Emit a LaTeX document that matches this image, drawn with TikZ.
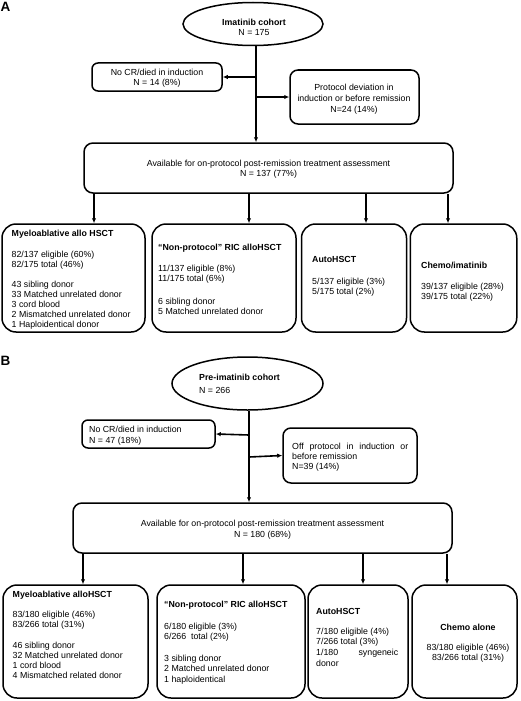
\documentclass[tikz,border=0pt]{standalone}
\usepackage{fontspec}
\setmainfont{Liberation Sans}
\usetikzlibrary{shapes.geometric,arrows.meta}
\newcommand{\lbox}[2]{\parbox[t]{#1pt}{\fontsize{8.8}{10}\selectfont\raggedright #2}}
\newcommand{\cbox}[2]{\parbox[t]{#1pt}{\fontsize{8.8}{10}\selectfont\centering #2}}
\begin{document}
\begin{tikzpicture}[x=1pt,y=-1pt,
  box/.style={draw,line width=1.5pt,rounded corners=#1,inner sep=0pt},
  box/.default=7,
  ell/.style={draw,ellipse,line width=1.5pt,inner sep=0pt},
  arr/.style={line width=1.6pt,-{Latex[length=5pt,width=4.5pt]}},
  txt/.style={inner sep=0pt,anchor=base west},
  ctxt/.style={inner sep=0pt,anchor=base},
  panel/.style={font=\fontsize{13.5}{13.5}\selectfont\bfseries,inner sep=0pt,anchor=north west}
]
\useasboundingbox (0,0) rectangle (520,701);

% ---------------- Panel A ----------------
\node[panel] (labA) at (0.5,2) {A};
\node[ell,minimum width=140,minimum height=43] (ellA) at (253,24) {};
\node[ctxt] (tEllA) at (254,26) {\cbox{120}{\textbf{Imatinib cohort}\\N = 175}};

\node[box=6,minimum width=130,minimum height=28] (noA) at (157,77) {};
\node[ctxt] (tNoA) at (157,75) {\cbox{128}{No CR/died in induction\\N = 14 (8\%)}};

\node[box=8,minimum width=129,minimum height=54] (devA) at (354.5,97) {};
\node[ctxt] (tDevA) at (354,90) {\cbox{127}{Protocol deviation in\\[1.5pt]induction or before remission\\[1pt]N=24 (14\%)}};

\node[box=9,minimum width=369,minimum height=50] (avA) at (268.5,168) {};
\node[ctxt] (tAvA) at (268.5,166) {\cbox{360}{Available for on-protocol post-remission treatment assessment\\[0.5pt]N = 137 (77\%)}};

\coordinate (trA) at (256,0);
\coordinate (jA1) at (256,77);
\coordinate (jA2) at (256,97);
\draw[arr] (ellA.south -| trA) -- (avA.north -| trA);
\draw[arr] (jA1) -- (noA.east);
\draw[arr] (jA2) -- (devA.west);

\node[box=14,minimum width=143,minimum height=108] (bA1) at (73.5,278) {};
\node[box=14,minimum width=144,minimum height=108] (bA2) at (224,278) {};
\node[box=14,minimum width=105,minimum height=108] (bA3) at (354,278) {};
\node[box=14,minimum width=106.5,minimum height=108] (bA4) at (463.5,278) {};

\coordinate (cA1) at (94,0);
\coordinate (cA2) at (249,0);
\coordinate (cA3) at (366,0);
\coordinate (cA4) at (448,0);
\draw[arr] (avA.south -| cA1) -- (bA1.north -| cA1);
\draw[arr] (avA.south -| cA2) -- (bA2.north -| cA2);
\draw[arr] (avA.south -| cA3) -- (bA3.north -| cA3);
\draw[arr] (avA.south -| cA4) -- (bA4.north -| cA4);

\node[txt] (tA1) at (11.5,236) {\lbox{132}{\textbf{Myeloablative allo HSCT}\\[11pt]82/137 eligible (60\%)\\82/175 total (46\%)\\[10pt]43 sibling donor\\33 Matched unrelated donor\\3 cord blood\\2 Mismatched unrelated donor\\1 Haploidentical donor}};
\node[txt] (tA2) at (158,250.5) {\lbox{136}{\textbf{“Non-protocol” RIC alloHSCT}\\[11pt]11/137 eligible (8\%)\\11/175 total (6\%)\\[13pt]6 sibling donor\\5 Matched unrelated donor}};
\node[txt] (tA3) at (312,262) {\lbox{92}{\textbf{AutoHSCT}\\[12.5pt]5/137 eligible (3\%)\\5/175 total (2\%)}};
\node[txt] (tA4) at (421,268) {\lbox{95}{\textbf{Chemo/imatinib}\\[11pt]39/137 eligible (28\%)\\39/175 total (22\%)}};

% ---------------- Panel B ----------------
\node[panel] (labB) at (0.5,356) {B};
\node[ell,minimum width=151,minimum height=53] (ellB) at (247.5,383.5) {};
\node[txt] (tEllB) at (199,380.5) {\lbox{110}{\textbf{Pre-imatinib cohort}\\[3pt]N = 266}};

\node[box=6,minimum width=133,minimum height=28] (noB) at (148.5,434) {};
\node[txt] (tNoB) at (89,432.3) {\lbox{124}{No CR/died in induction\\[0.7pt]N = 47 (18\%)}};

\node[box=8,minimum width=134,minimum height=55] (offB) at (350,455.5) {};
\node[txt] (tOffB) at (292,449) {\lbox{116}{Off\hfill protocol\hfill in\hfill induction\hfill or\\[0.5pt]before remission\\[0.3pt]N=39 (14\%)}};

\node[box=9,minimum width=379,minimum height=50] (avB) at (262.5,528) {};
\node[ctxt] (tAvB) at (262.5,526.3) {\cbox{370}{Available for on-protocol post-remission treatment assessment\\[0.7pt]N = 180 (68\%)}};

\coordinate (trB) at (249,0);
\coordinate (jB1) at (249,435);
\coordinate (jB2) at (249,457);
\draw[arr] (ellB.south -| trB) -- (avB.north -| trB);
\draw[arr] (jB1) -- (noB.east);
\draw[arr] (jB2) -- (offB.west);

\node[box=14,minimum width=145,minimum height=113] (bB1) at (75.5,641.5) {};
\node[box=14,minimum width=148,minimum height=113] (bB2) at (231,641.5) {};
\node[box=14,minimum width=100,minimum height=113] (bB3) at (358,641.5) {};
\node[box=14,minimum width=105,minimum height=113] (bB4) at (464.5,641.5) {};

\coordinate (cB1) at (83,0);
\coordinate (cB2) at (243,0);
\coordinate (cB3) at (363,0);
\coordinate (cB4) at (447,0);
\draw[arr] (avB.south -| cB1) -- (bB1.north -| cB1);
\draw[arr] (avB.south -| cB2) -- (bB2.north -| cB2);
\draw[arr] (avB.south -| cB3) -- (bB3.north -| cB3);
\draw[arr] (avB.south -| cB4) -- (bB4.north -| cB4);

\node[txt] (tB1) at (12.5,597) {\lbox{134}{\textbf{Myeloablative alloHSCT}\\[10.5pt]83/180 eligible (46\%)\\83/266 total (31\%)\\[10.5pt]46 sibling donor\\32 Matched unrelated donor\\1 cord blood\\4 Mismatched related donor}};
\node[txt] (tB2) at (164,607.7) {\lbox{138}{\textbf{“Non-protocol” RIC alloHSCT}\\[11.6pt]6/180 eligible (3\%)\\6/266\ \ total (2\%)\\[11.7pt]3 sibling donor\\2 Matched unrelated donor\\[1.7pt]1 haploidentical}};
\node[txt] (tB3) at (316,614) {\lbox{82}{\textbf{AutoHSCT}\\[10.7pt]7/180 eligible (4\%)\\7/266 total (3\%)\\[0.7pt]1/180\hfill syngeneic\\[0.6pt]donor}};
\node[ctxt] (tB4) at (468,630.3) {\cbox{100}{\textbf{Chemo alone}\\[10pt]83/180 eligible (46\%)\\83/266 total (31\%)}};
\end{tikzpicture}
\end{document}
